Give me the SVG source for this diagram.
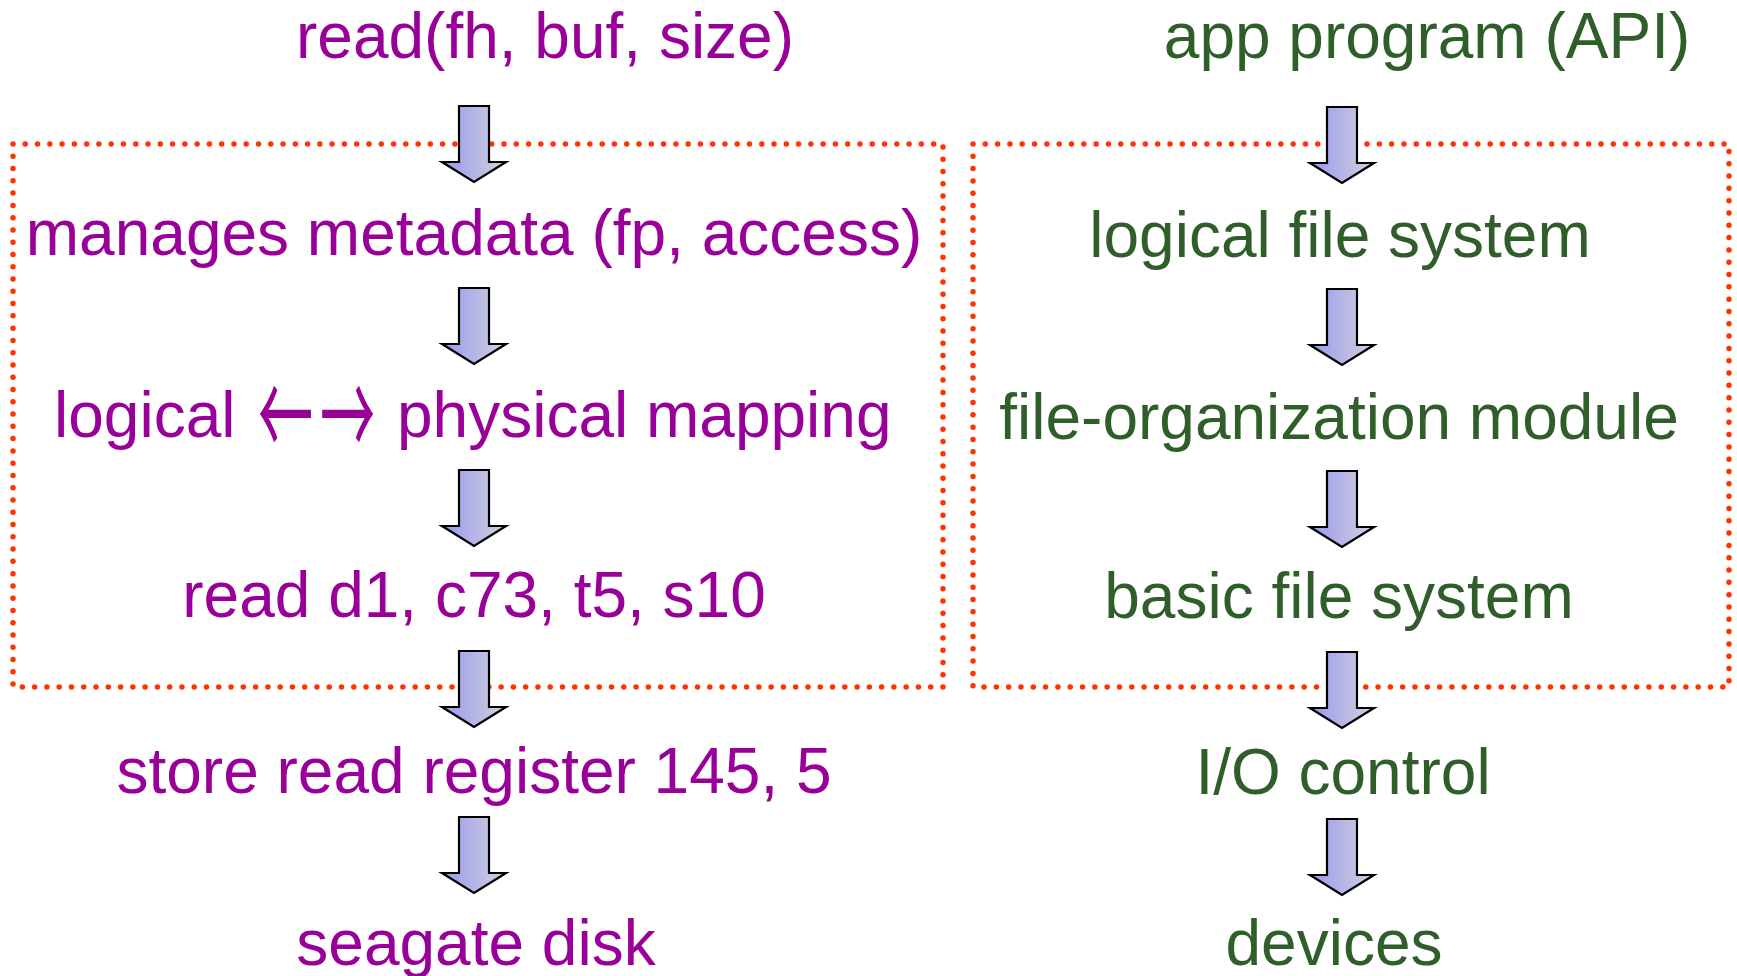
<svg xmlns="http://www.w3.org/2000/svg" width="1737" height="976" viewBox="0 0 1737 976">
  <defs>
    <linearGradient id="arrowFill" x1="0" y1="0" x2="1" y2="0">
      <stop offset="0" stop-color="#9898f0"/>
      <stop offset="1" stop-color="#d2d2dc"/>
    </linearGradient>
    <!-- downward block arrow, 64 wide, 76 tall, tip at (0,76) -->
    <path id="down" d="M-15,0 H15 V56 H32 L0,76 L-32,56 H-15 Z"/>
  </defs>
  <style>
    text { font-family: "Liberation Sans", Arial, sans-serif; font-size: 64px; text-anchor: middle; }
    .purple { fill: #990099; }
    .green { fill: #2f5e2a; }
    .start { text-anchor: start; }
    .sym { font-family: "Noto Sans CJK JP", "DejaVu Sans", sans-serif; font-size: 120px; text-anchor: start; }
    .frame { fill: none; stroke: #ff3300; stroke-width: 5.5; stroke-linecap: round; }
    .arrow { fill: url(#arrowFill); stroke: #000; stroke-width: 2.2; stroke-linejoin: miter; }
  </style>

  <!-- dotted layer frames -->
  <g id="frames">
    <rect id="frame-left" class="frame" x="13" y="144" width="930" height="543" stroke-dasharray="0 12.275"/>
    <rect id="frame-right" class="frame" x="973" y="144" width="756" height="543" stroke-dasharray="0 12.313"/>
  </g>

  <!-- connectors -->
  <g id="connectors">
    <use href="#down" class="arrow" x="474" y="106"/>
    <use href="#down" class="arrow" x="474" y="288"/>
    <use href="#down" class="arrow" x="474" y="470"/>
    <use href="#down" class="arrow" x="474" y="651"/>
    <use href="#down" class="arrow" x="474" y="817"/>
    <use href="#down" class="arrow" x="1342" y="107"/>
    <use href="#down" class="arrow" x="1342" y="289"/>
    <use href="#down" class="arrow" x="1342" y="471"/>
    <use href="#down" class="arrow" x="1342" y="652"/>
    <use href="#down" class="arrow" x="1342" y="819"/>
  </g>

  <!-- left column: example read request -->
  <g id="n-read-call"><text class="purple" x="545" y="58">read(fh, buf, size)</text></g>
  <g id="n-metadata"><text class="purple" x="474" y="255">manages metadata (fp, access)</text></g>
  <g id="n-mapping">
    <text class="purple start" x="54" y="437">logical</text>
    <text class="purple sym" transform="translate(258,460) scale(0.46,1)">←</text>
    <text class="purple sym" transform="translate(320,460) scale(0.46,1)">→</text>
    <text class="purple start" x="397" y="437">physical mapping</text>
  </g>
  <g id="n-read-block"><text class="purple" x="474" y="617">read d1, c73, t5, s10</text></g>
  <g id="n-register"><text class="purple" x="474" y="793">store read register 145, 5</text></g>
  <g id="n-disk"><text class="purple" x="476" y="965">seagate disk</text></g>

  <!-- right column: file system layers -->
  <g id="n-app"><text class="green" x="1427" y="58">app program (API)</text></g>
  <g id="n-logical-fs"><text class="green" x="1340" y="257">logical file system</text></g>
  <g id="n-file-org"><text class="green" x="1339" y="439">file-organization module</text></g>
  <g id="n-basic-fs"><text class="green" x="1339" y="618">basic file system</text></g>
  <g id="n-io-control"><text class="green" x="1343" y="794">I/O control</text></g>
  <g id="n-devices"><text class="green" x="1334" y="965">devices</text></g>
</svg>
